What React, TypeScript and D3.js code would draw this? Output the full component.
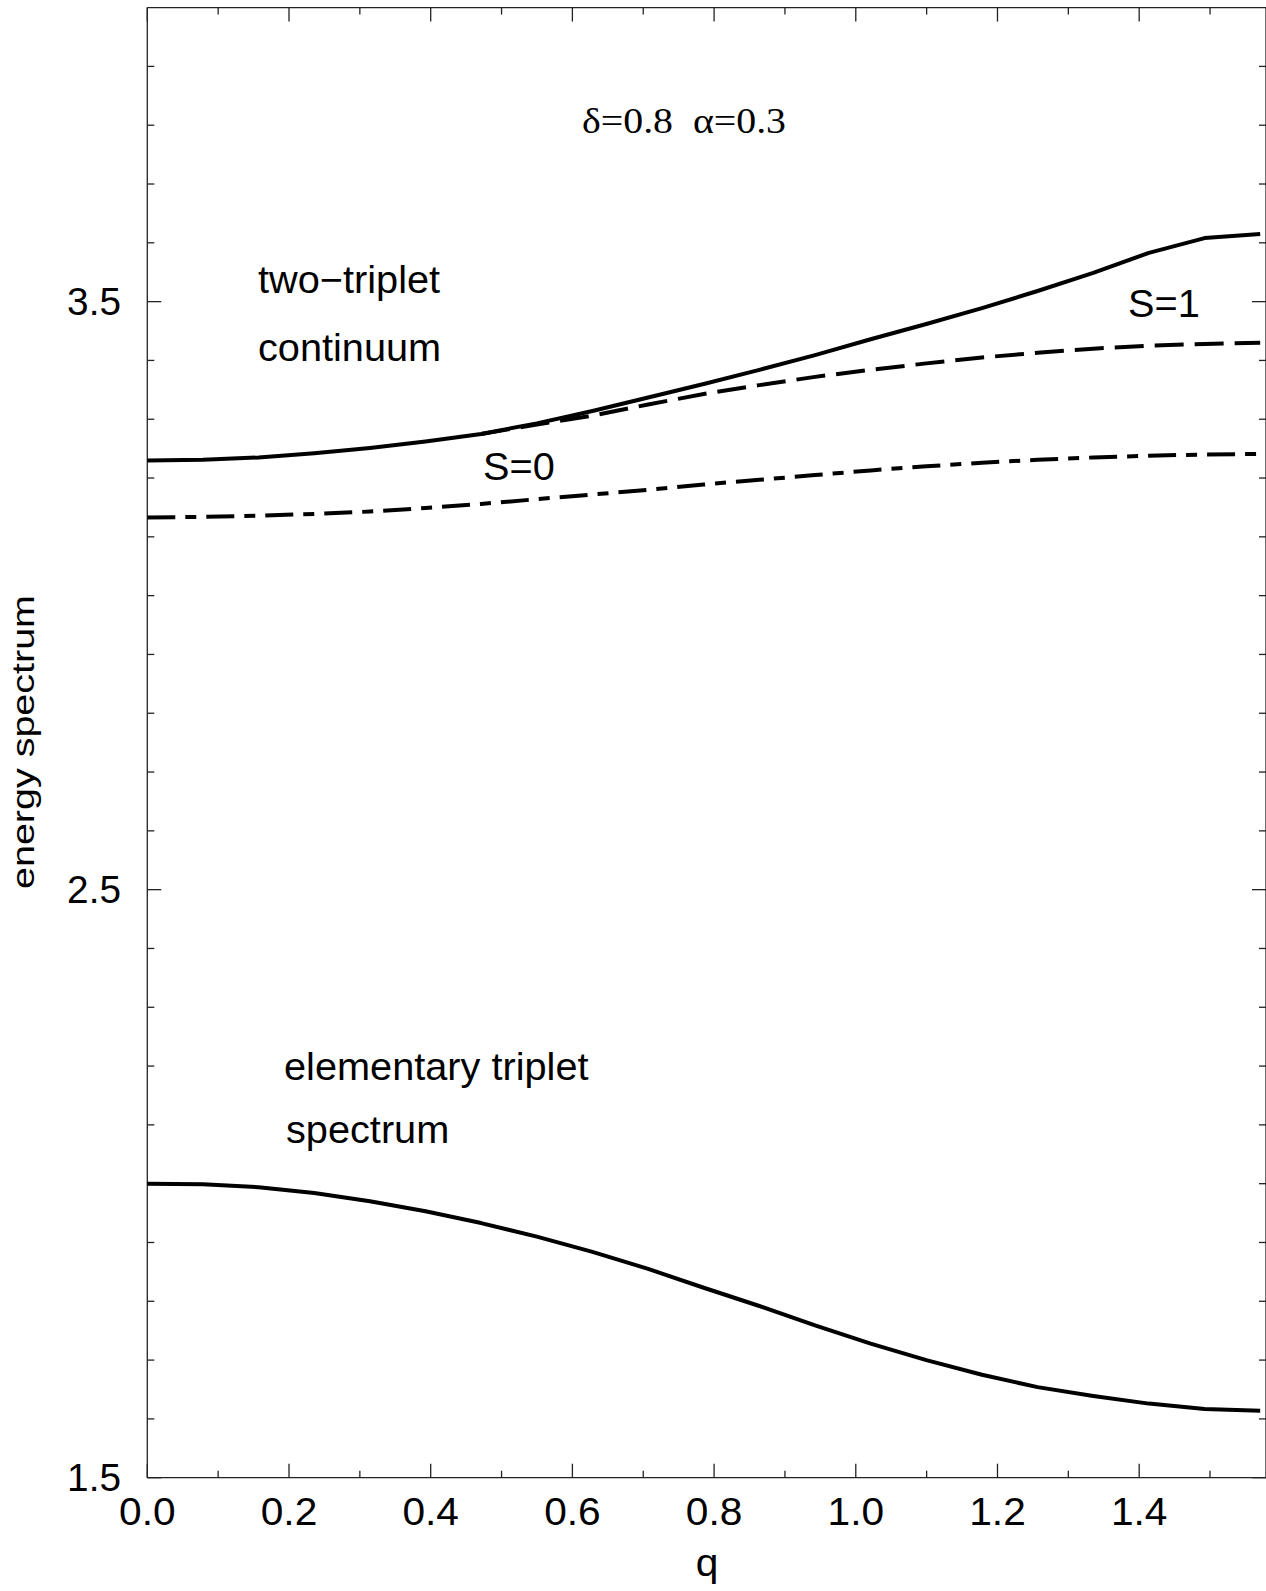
import React from "react";
import * as d3 from "d3";

// momentum grid (q = k·π/40, k = 0..20)
const qGrid = [
  0, 0.0785, 0.1571, 0.2356, 0.3142, 0.3927, 0.4712, 0.5498, 0.6283, 0.7069, 0.7854,
  0.8639, 0.9425, 1.021, 1.0996, 1.1781, 1.2566, 1.3352, 1.4137, 1.4923, 1.5708,
];

// lower edge of the two-triplet continuum
const continuumEdge = [
  3.23, 3.231, 3.235, 3.242, 3.251, 3.262, 3.275, 3.293, 3.314, 3.337, 3.36,
  3.384, 3.409, 3.436, 3.462, 3.489, 3.518, 3.549, 3.583, 3.608, 3.615,
];

// S=1 bound state (emerges from the continuum)
const qTriplet = [
  0.4712, 0.5498, 0.6283, 0.7069, 0.7854, 0.8639, 0.9425, 1.021, 1.0996, 1.1781,
  1.2566, 1.3352, 1.4137, 1.4923, 1.5708,
];
const tripletBound = [
  3.275, 3.291, 3.306, 3.325, 3.343, 3.358, 3.372, 3.384, 3.395, 3.405,
  3.413, 3.42, 3.425, 3.428, 3.43,
];

// S=0 bound state
const singletBound = [
  3.133, 3.134, 3.136, 3.139, 3.143, 3.149, 3.156, 3.164, 3.172, 3.18, 3.189,
  3.197, 3.205, 3.213, 3.22, 3.226, 3.231, 3.235, 3.238, 3.24, 3.241,
];

// elementary triplet dispersion
const elementary = [
  2.0, 1.999, 1.994, 1.984, 1.97, 1.953, 1.933, 1.91, 1.884, 1.855, 1.823,
  1.792, 1.759, 1.728, 1.7, 1.675, 1.654, 1.639, 1.626, 1.617, 1.614,
];

const xMajor = [0, 0.2, 0.4, 0.6, 0.8, 1.0, 1.2, 1.4];
const xMinor = [0.1, 0.3, 0.5, 0.7, 0.9, 1.1, 1.3, 1.5];
const yMajor = [1.5, 2.5, 3.5];
const yMinor = [
  1.6, 1.7, 1.8, 1.9, 2.0, 2.1, 2.2, 2.3, 2.4, 2.6, 2.7, 2.8, 2.9, 3.0,
  3.1, 3.2, 3.3, 3.4, 3.6, 3.7, 3.8, 3.9,
];

const W = 1266;
const H = 1591;
const left = 147.3;
const right = 1266;
const top = 7.6;
const bottom = 1477.7;

const SANS = "'Liberation Sans', Arial, Helvetica, sans-serif";
const SERIF = "'Liberation Serif', 'Times New Roman', serif";

export default function App() {
  const x = d3.scaleLinear().domain([0, 1.579]).range([left, right]);
  const y = d3.scaleLinear().domain([1.5, 4.0]).range([bottom, top]);

  const line = (qs: number[], es: number[]) =>
    d3
      .line<number>()
      .x((_, i) => x(qs[i]))
      .y((e) => y(e))(es) as string;

  const majorLen = 14;
  const minorLen = 7;
  const axisStroke = "#222";

  const label = (
    txt: string,
    px: number,
    py: number,
    anchor: "start" | "middle" | "end" = "start",
    sx = 1.045,
    size = 38
  ) => (
    <text
      key={txt + px + py}
      transform={`translate(${px},${py}) scale(${sx},1)`}
      textAnchor={anchor}
      fontFamily={SANS}
      fontSize={size}
      fill="#000"
    >
      {txt}
    </text>
  );

  return (
    <svg
      width={W}
      height={H}
      style={{ position: "absolute", left: 0, top: 0, background: "#fff" }}
    >
      <rect x={0} y={0} width={W} height={H} fill="#fff" />

      {/* frame */}
      <g stroke={axisStroke} strokeWidth={1.3} fill="none">
        <line x1={left} y1={top} x2={right} y2={top} />
        <line x1={left} y1={bottom} x2={right} y2={bottom} />
        <line x1={left} y1={top} x2={left} y2={bottom} />
        <line x1={right} y1={top} x2={right} y2={bottom} />
      </g>

      {/* ticks on all four sides, pointing inward */}
      <g stroke={axisStroke} strokeWidth={1.3}>
        {xMajor.map((v) => (
          <g key={"xM" + v}>
            <line x1={x(v)} x2={x(v)} y1={bottom} y2={bottom - majorLen} />
            <line x1={x(v)} x2={x(v)} y1={top} y2={top + majorLen} />
          </g>
        ))}
        {xMinor.map((v) => (
          <g key={"xm" + v}>
            <line x1={x(v)} x2={x(v)} y1={bottom} y2={bottom - minorLen} />
            <line x1={x(v)} x2={x(v)} y1={top} y2={top + minorLen} />
          </g>
        ))}
        {yMajor.map((v) => (
          <g key={"yM" + v}>
            <line x1={left} x2={left + majorLen} y1={y(v)} y2={y(v)} />
            <line x1={right} x2={right - majorLen} y1={y(v)} y2={y(v)} />
          </g>
        ))}
        {yMinor.map((v) => (
          <g key={"ym" + v}>
            <line x1={left} x2={left + minorLen} y1={y(v)} y2={y(v)} />
            <line x1={right} x2={right - minorLen} y1={y(v)} y2={y(v)} />
          </g>
        ))}
      </g>

      {/* tick labels */}
      {xMajor.map((v) => label(v.toFixed(1), x(v), 1525, "middle", 1.07))}
      {yMajor.map((v) => label(v.toFixed(1), 121, y(v) + 13.3, "end", 1.02))}

      {/* axis titles */}
      {label("q", 707, 1576, "middle", 1.07)}
      <text
        transform={`translate(33.5,742) rotate(-90)`}
        textAnchor="middle"
        fontFamily={SANS}
        fontSize={31}
        textLength={294}
        lengthAdjust="spacingAndGlyphs"
      >
        energy spectrum
      </text>

      {/* curves */}
      <g fill="none" stroke="#000" strokeWidth={4}>
        <path d={line(qTriplet, tripletBound)} strokeDasharray="29 11" />
        <path d={line(qGrid, singletBound)} strokeDasharray="28 10 11 10" />
        <path d={line(qGrid, continuumEdge)} strokeLinejoin="round" />
        <path d={line(qGrid, elementary)} strokeLinejoin="round" />
      </g>

      {/* parameters */}
      <text
        x={582}
        y={133}
        fontFamily={SERIF}
        fontSize={35}
        textLength={204}
        lengthAdjust="spacingAndGlyphs"
        xmlSpace="preserve"
        style={{ whiteSpace: "pre" }}
      >
        {"δ=0.8  α=0.3"}
      </text>

      {/* region and branch labels */}
      {label("two\u2212triplet", 258, 293)}
      {label("continuum", 258, 361)}
      {label("S=0", 483, 479.5)}
      {label("S=1", 1128, 316.5)}
      {label("elementary triplet", 284, 1079.5)}
      {label("spectrum", 286, 1143)}
    </svg>
  );
}
